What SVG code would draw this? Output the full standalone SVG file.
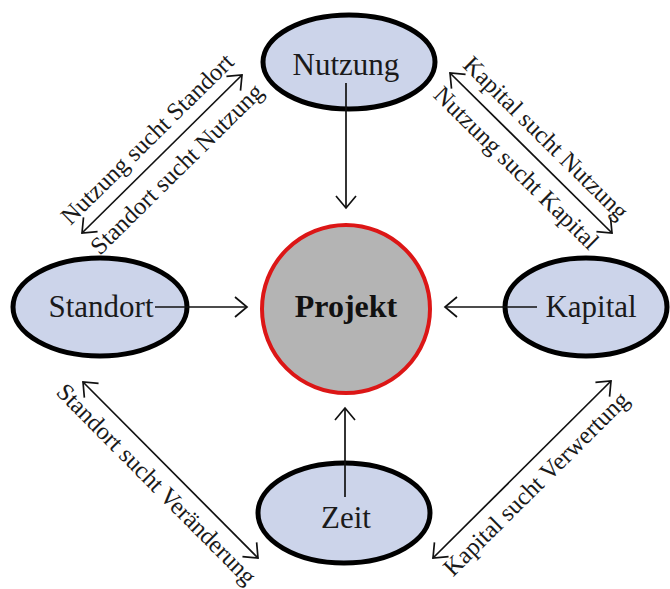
<svg xmlns="http://www.w3.org/2000/svg" width="670" height="589" viewBox="0 0 670 589">
<defs>
<style>
.node{fill:#CCD4EA;stroke:#000;stroke-width:5}
.proj{fill:#B4B4B4;stroke:#DC1616;stroke-width:4}
.nt{font-family:"Liberation Serif","Times New Roman",serif;font-size:31px;fill:#1a1a1a;text-anchor:middle}
.pt{font-family:"Liberation Serif","Times New Roman",serif;font-size:32px;font-weight:bold;fill:#111;text-anchor:middle}
.lbl{font-family:"Liberation Serif","Times New Roman",serif;font-size:24.5px;fill:#1a1a1a;text-anchor:middle}
.con{stroke:#111;stroke-width:1.7;fill:none}
</style>
<marker id="ah" viewBox="-16 -12 18 24" refX="0" refY="0" markerWidth="18" markerHeight="24" markerUnits="userSpaceOnUse" orient="auto-start-reverse">
<path d="M-12,-10 L0,0 L-12,10" fill="none" stroke="#111" stroke-width="1.7"/>
</marker>
</defs>
<rect width="670" height="589" fill="#fff"/>
<g id="projekt"><circle class="proj" cx="346" cy="309" r="84"/><text class="pt" x="346" y="317">Projekt</text></g>
<g id="nutzung"><ellipse class="node" cx="349" cy="62" rx="86" ry="47"/><text class="nt" x="346" y="75">Nutzung</text></g>
<g id="standort"><ellipse class="node" cx="100" cy="307" rx="87" ry="49"/><text class="nt" x="101" y="317">Standort</text></g>
<g id="kapital"><ellipse class="node" cx="586" cy="307" rx="81" ry="49"/><text class="nt" x="591" y="317">Kapital</text></g>
<g id="zeit"><ellipse class="node" cx="344" cy="513" rx="86" ry="50"/><text class="nt" x="346" y="528">Zeit</text></g>
<g id="connectors">
<line class="con" x1="346" y1="83" x2="346" y2="208" marker-end="url(#ah)"/>
<line class="con" x1="345" y1="497" x2="345" y2="408" marker-end="url(#ah)"/>
<line class="con" x1="155" y1="307" x2="247" y2="307" marker-end="url(#ah)"/>
<line class="con" x1="537" y1="307" x2="445" y2="307" marker-end="url(#ah)"/>
<line class="con" x1="82" y1="233" x2="242" y2="75" marker-start="url(#ah)" marker-end="url(#ah)"/>
<line class="con" x1="450" y1="73" x2="612" y2="233" marker-start="url(#ah)" marker-end="url(#ah)"/>
<line class="con" x1="83" y1="382" x2="258" y2="558" marker-start="url(#ah)" marker-end="url(#ah)"/>
<line class="con" x1="611" y1="381" x2="433" y2="558" marker-start="url(#ah)" marker-end="url(#ah)"/>
<g transform="translate(162,154) rotate(-44.6)"><text class="lbl" y="-13">Nutzung sucht Standort</text><text class="lbl" y="29">Standort sucht Nutzung</text></g>
<g transform="translate(531,153) rotate(44.6)"><text class="lbl" y="-13">Kapital sucht Nutzung</text><text class="lbl" y="29">Nutzung sucht Kapital</text></g>
<g transform="translate(170.5,470) rotate(45.2)"><text class="lbl" y="28">Standort sucht Veränderung</text></g>
<g transform="translate(522,469.5) rotate(-44.8)"><text class="lbl" y="28">Kapital sucht Verwertung</text></g>
</g>
</svg>
